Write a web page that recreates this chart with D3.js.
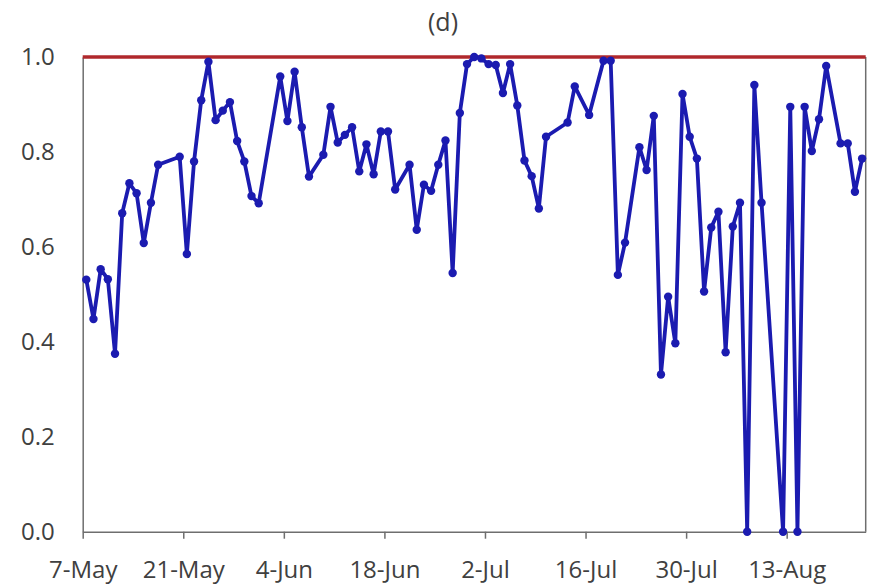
<!DOCTYPE html>
<html>
<head>
<meta charset="utf-8">
<script src="https://cdn.jsdelivr.net/npm/d3@7/dist/d3.min.js"></script>
<style>
  html, body { margin: 0; padding: 0; background: #fff; }
  svg { display: block; }
  text { font-family: "Open Sans", "Noto Sans", sans-serif; fill: #404040; }
</style>
</head>
<body>
<svg id="chart" width="870" height="586"></svg>
<script>
// ---- data ----
const title = "(d)";
const dates = [
  "2014-05-07","2014-05-08","2014-05-09","2014-05-10","2014-05-11","2014-05-12","2014-05-13","2014-05-14",
  "2014-05-15","2014-05-16","2014-05-17","2014-05-20","2014-05-21","2014-05-22","2014-05-23","2014-05-24",
  "2014-05-25","2014-05-26","2014-05-27","2014-05-28","2014-05-29","2014-05-30","2014-05-31",
  "2014-06-03","2014-06-04","2014-06-05","2014-06-06","2014-06-07","2014-06-09","2014-06-10","2014-06-11",
  "2014-06-12","2014-06-13","2014-06-14","2014-06-15","2014-06-16","2014-06-17","2014-06-18","2014-06-19",
  "2014-06-21","2014-06-22","2014-06-23","2014-06-24","2014-06-25","2014-06-26","2014-06-27","2014-06-28",
  "2014-06-29","2014-06-30","2014-07-01","2014-07-02","2014-07-03","2014-07-04","2014-07-05","2014-07-06",
  "2014-07-07","2014-07-08","2014-07-09","2014-07-10","2014-07-13","2014-07-14","2014-07-16","2014-07-18",
  "2014-07-19","2014-07-20","2014-07-21","2014-07-23","2014-07-24","2014-07-25","2014-07-26","2014-07-27",
  "2014-07-28","2014-07-29","2014-07-30","2014-07-31","2014-08-01","2014-08-02","2014-08-03","2014-08-04",
  "2014-08-05","2014-08-06","2014-08-07","2014-08-08","2014-08-09","2014-08-12","2014-08-13","2014-08-14",
  "2014-08-15","2014-08-16","2014-08-17","2014-08-18","2014-08-20","2014-08-21","2014-08-22","2014-08-23"
];
const values = [
  0.531,0.448,0.553,0.532,0.375,0.671,0.734,0.713,
  0.608,0.693,0.773,0.790,0.585,0.780,0.909,0.990,
  0.867,0.887,0.905,0.823,0.780,0.707,0.692,
  0.959,0.865,0.969,0.852,0.748,0.794,0.895,0.820,
  0.836,0.852,0.759,0.816,0.753,0.843,0.843,0.721,
  0.773,0.636,0.731,0.718,0.773,0.824,0.545,0.882,
  0.985,1.000,0.997,0.985,0.983,0.924,0.985,0.898,
  0.782,0.749,0.681,0.832,0.862,0.938,0.878,0.992,
  0.992,0.541,0.609,0.810,0.762,0.876,0.331,0.495,
  0.397,0.922,0.832,0.786,0.506,0.641,0.674,0.378,
  0.643,0.693,0.000,0.941,0.693,0.000,0.895,0.000,
  0.895,0.802,0.869,0.981,0.818,0.818,0.716,0.786
];
const referenceValue = [1.0];
const xDomain = ["2014-05-07", "2014-08-24"];
const xTickStep = 14; // days
const yTicks = [0.0, 0.2, 0.4, 0.6, 0.8, 1.0];

// ---- layout ----
const plot = { left: 82.7, right: 865.7, top: 57, bottom: 531.7 };
const parse = d3.utcParse("%Y-%m-%d");
const svg = d3.select("#chart");

const x = d3.scaleUtc()
  .domain(xDomain.map(parse))
  .range([plot.left, plot.right]);
const y = d3.scaleLinear().domain([0, 1]).range([plot.bottom, plot.top]);

const points = dates.map((d, i) => ({
  date: d3.utcHour.offset(parse(d), 12),
  value: values[i]
}));

const start = parse(xDomain[0]);
const end = parse(xDomain[1]);
const xTickValues = d3.utcDay.range(start, end, 1).filter((d, i) => i % xTickStep === 0);

// plot frame (right border)
svg.append("line")
  .attr("x1", plot.right).attr("x2", plot.right)
  .attr("y1", plot.top).attr("y2", plot.bottom)
  .attr("stroke", "#6e6e6e").attr("stroke-width", 1.5);

// x axis
const xAxis = d3.axisBottom(x)
  .tickValues(xTickValues)
  .tickFormat(d3.utcFormat("%-d-%b"))
  .tickSize(7)
  .tickSizeOuter(0)
  .tickPadding(22);
const gx = svg.append("g")
  .attr("transform", `translate(0,${plot.bottom})`)
  .call(xAxis);
gx.select(".domain").attr("stroke", "#6e6e6e").attr("stroke-width", 1.5);
gx.selectAll(".tick line").attr("stroke", "#6e6e6e").attr("stroke-width", 1.5);
gx.selectAll(".tick text")
  .attr("font-size", 24)
  .attr("fill", "#404040")
  .style("font-family", "'Open Sans', sans-serif");

// y axis
const yAxis = d3.axisLeft(y)
  .tickValues(yTicks)
  .tickFormat(d3.format(".1f"))
  .tickSize(0)
  .tickPadding(28);
const gy = svg.append("g")
  .attr("transform", `translate(${plot.left},0)`)
  .call(yAxis);
gy.select(".domain").attr("stroke", "#6e6e6e").attr("stroke-width", 1.5);
gy.selectAll(".tick text")
  .attr("font-size", 24)
  .attr("fill", "#404040")
  .style("font-family", "'Open Sans', sans-serif");

// reference line at 1.0
svg.selectAll(".ref")
  .data(referenceValue)
  .enter().append("line")
  .attr("class", "ref")
  .attr("x1", plot.left).attr("x2", plot.right)
  .attr("y1", d => y(d)).attr("y2", d => y(d))
  .attr("stroke", "#b0282c").attr("stroke-width", 3.5);

// data line
const line = d3.line()
  .x(d => x(d.date))
  .y(d => y(d.value));
const blue = "#1b1bb0";
svg.append("path")
  .datum(points)
  .attr("fill", "none")
  .attr("stroke", blue)
  .attr("stroke-width", 3.8)
  .attr("stroke-linejoin", "round")
  .attr("d", line);

svg.selectAll(".pt")
  .data(points)
  .enter().append("circle")
  .attr("class", "pt")
  .attr("cx", d => x(d.date))
  .attr("cy", d => y(d.value))
  .attr("r", 4.2)
  .attr("fill", blue);

// title
svg.append("text")
  .attr("x", 443)
  .attr("y", 31)
  .attr("text-anchor", "middle")
  .attr("font-size", 25)
  .attr("fill", "#404040")
  .text(title);
</script>
</body>
</html>
